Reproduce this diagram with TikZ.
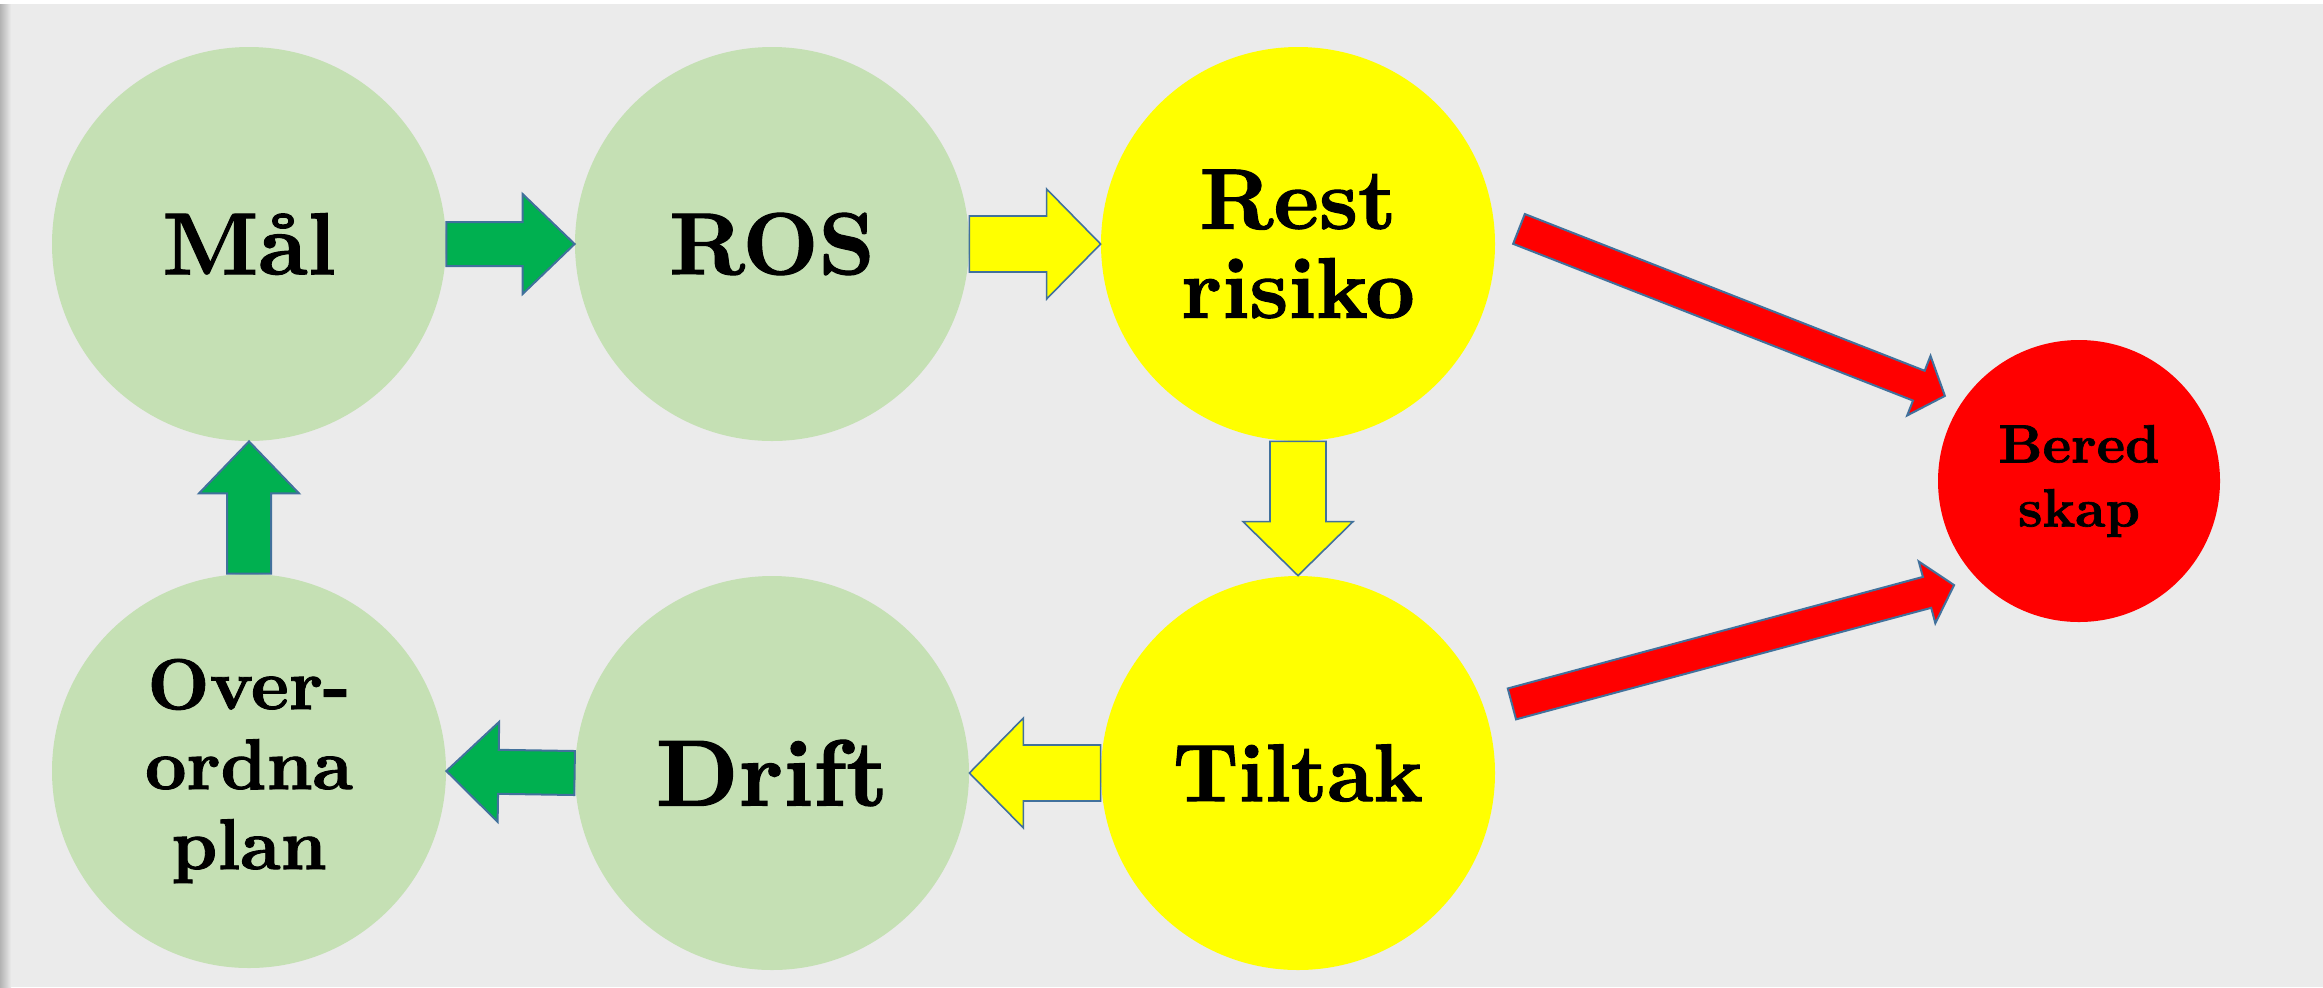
\documentclass[tikz,border=0pt]{standalone}
\usepackage{fontspec}
\usepackage{tikz}
\usetikzlibrary{calc}

\newfontfamily\heavyserif[FakeBold=1.2]{lmroman10-bold.otf}

\definecolor{bggray}{HTML}{EBEBEB}
\definecolor{palegreen}{HTML}{C5E0B4}
\definecolor{arrowgreen}{HTML}{00B050}
\definecolor{edgeblue}{HTML}{41719C}
\definecolor{signalyellow}{HTML}{FFFF00}
\definecolor{alarmred}{HTML}{FF0000}

% fat arrow drawn along a to-path: shaft half width / head half width / head length
\tikzset{
  fat arrow/.style args={#1/#2/#3}{to path={
    let \p1=(\tikztostart), \p2=(\tikztotarget),
        \n1={atan2(\y2-\y1,\x2-\x1)}, \n2={veclen(\x2-\x1,\y2-\y1)}
    in [shift={(\p1)}, rotate=\n1]
    (0pt,#1) -- (\n2-#3,#1) -- (\n2-#3,#2) -- (\n2,0pt)
    -- (\n2-#3,-#2) -- (\n2-#3,-#1) -- (0pt,-#1) -- cycle}},
}

\begin{document}
\begin{tikzpicture}[x=0.5pt,y=-0.5pt,
    phase/.style={circle,minimum size=197pt,inner sep=0pt,align=center,
      font=\heavyserif\fontsize{44}{48}\selectfont},
    greenarrow/.style={draw=edgeblue,line width=1pt,fill=arrowgreen,fat arrow=11pt/25pt/26pt},
    yellowarrow/.style={draw=edgeblue,line width=0.8pt,fill=signalyellow,fat arrow=14pt/27.5pt/27pt},
    redarrow/.style={draw=edgeblue,line width=1pt,fill=alarmred,fat arrow=8pt/16pt/14pt}]
  \useasboundingbox (0,0) rectangle (2323,987);
  \fill[bggray] (0,0) rectangle (2323,987);
  \shade[left color=gray!60,right color=bggray] (0,0) rectangle (11,987);
  \fill[white] (0,0) rectangle (2323,4);

  % upper row
  \node[phase,fill=palegreen] (mal) at (249,244) {Mål};
  \node[phase,fill=palegreen] (ros) at (772,244) {ROS};
  \node[phase,fill=signalyellow,font=\heavyserif\fontsize{43}{44.5}\selectfont] (rest) at (1298,244) {Rest\\risiko};
  % lower row
  \node[phase,fill=signalyellow,font=\heavyserif\fontsize{41}{46}\selectfont] (tiltak) at (1298,773) {Tiltak};
  \node[phase,fill=palegreen,font=\heavyserif\fontsize{47}{50}\selectfont] (drift) at (772,773) {Drift};
  \node[phase,fill=palegreen,font=\heavyserif\fontsize{36}{40}\selectfont] (over) at (249,771) {Over-\\ordna\\plan};
  \node[phase,fill=alarmred,minimum size=141pt,font=\heavyserif\fontsize{27}{32}\selectfont] (bered) at (2079,481) {Bered\\skap};

  % the cycle
  \draw[greenarrow] (mal.east) to (ros.west);
  \draw[yellowarrow] (ros.east) to (rest.west);
  \draw[yellowarrow] (rest.south) to (tiltak.north);
  \draw[yellowarrow] (tiltak.west) to (drift.east);
  \draw[greenarrow] (drift.west) to (over.east);
  \draw[greenarrow] (over.north) to (mal.south);
  % into beredskap
  \draw[redarrow] ($(rest)+(3.9:110.75pt)$) to ($(bered)+(147.6:79.4pt)$);
  \draw[redarrow] ($(tiltak)+(17.9:112.4pt)$) to ($(bered)+(219.8:81.3pt)$);
\end{tikzpicture}
\end{document}
